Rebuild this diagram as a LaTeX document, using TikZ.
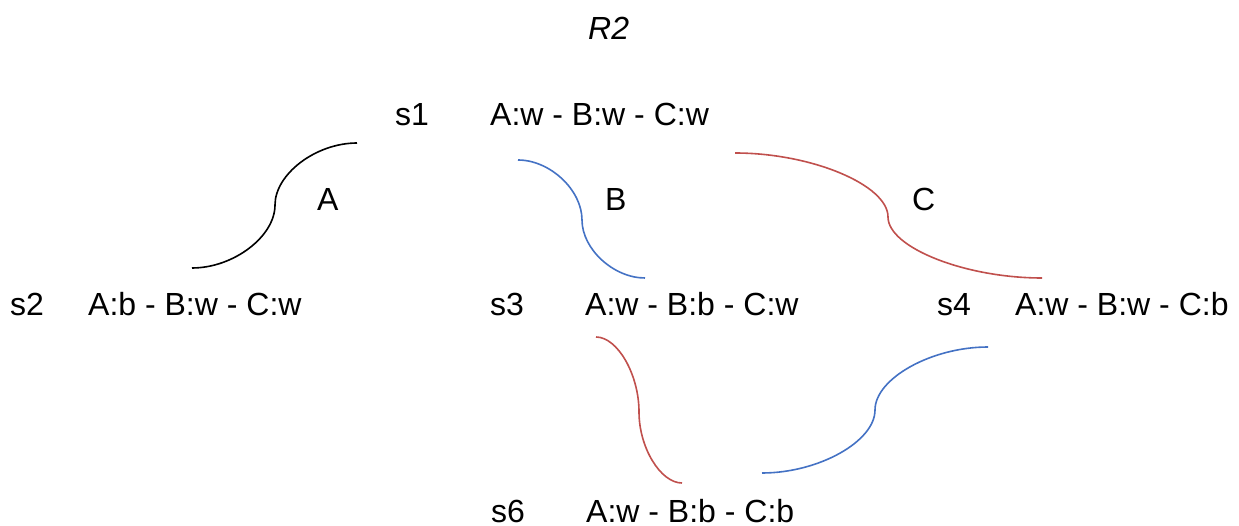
\documentclass[tikz,border=0pt]{standalone}
\usepackage{fontspec}
\setmainfont{Liberation Sans}
\definecolor{cblue}{HTML}{4472C4}
\definecolor{cred}{HTML}{C0504D}
\begin{document}
\begin{tikzpicture}[x=1pt,y=-1pt,
  txt/.style={inner sep=0pt,anchor=base west,font=\fontsize{32}{38}\selectfont},
  lbl/.style={txt},
  conn/.style={line width=1.6pt}]
\useasboundingbox (0,0) rectangle (1239,526);
% title
\node[txt] (title) at (588,40) {\itshape R2};
% states
\node[txt] (s1) at (395,126) {s1};
\node[txt] (v1) at (490,126) {A:w - B:w - C:w};
\node[txt] (s2) at (10,316) {s2};
\node[txt] (v2) at (88,316) {A:b - B:w - C:w};
\node[txt] (s3) at (490,316) {s3};
\node[txt] (v3) at (585,316) {A:w - B:b - C:w};
\node[txt] (s4) at (937,316) {s4};
\node[txt] (v4) at (1015,316) {A:w - B:w - C:b};
\node[txt] (s6) at (491,522) {s6};
\node[txt] (v6) at (586,522) {A:w - B:b - C:b};
% labels
\node[lbl] (la) at (317,211) {A};
\node[lbl] (lb) at (605,211) {B};
\node[lbl] (lc) at (912,211) {C};
% connector end points
\coordinate (a0) at (192,268); \coordinate (am) at (275,205); \coordinate (a1) at (357,143);
\coordinate (b0) at (518,160); \coordinate (bm) at (582,220); \coordinate (b1) at (645,278);
\coordinate (c0) at (735,153); \coordinate (cm) at (888,217); \coordinate (c1) at (1042,278);
\coordinate (d0) at (596,337); \coordinate (dm) at (639,412); \coordinate (d1) at (682,483);
\coordinate (e0) at (762,473); \coordinate (em) at (875,410); \coordinate (e1) at (988,347);
% connectors (Office-style curved connectors)
\draw[conn,black] (a0) .. controls (233.5,268) and (275,236.5) .. (am)
                       .. controls (275,174) and (316,143) .. (a1);
\draw[conn,cblue] (b0) .. controls (550,160) and (582,190) .. (bm)
                       .. controls (582,249) and (613.5,278) .. (b1);
\draw[conn,cred]  (c0) .. controls (811.5,153) and (888,185) .. (cm)
                       .. controls (888,247.5) and (965,278) .. (c1);
\draw[conn,cred]  (d0) .. controls (617.5,337) and (639,374.5) .. (dm)
                       .. controls (639,447.5) and (660.5,483) .. (d1);
\draw[conn,cblue] (e0) .. controls (818.5,473) and (875,441.5) .. (em)
                       .. controls (875,378.5) and (931.5,347) .. (e1);
\end{tikzpicture}
\end{document}
